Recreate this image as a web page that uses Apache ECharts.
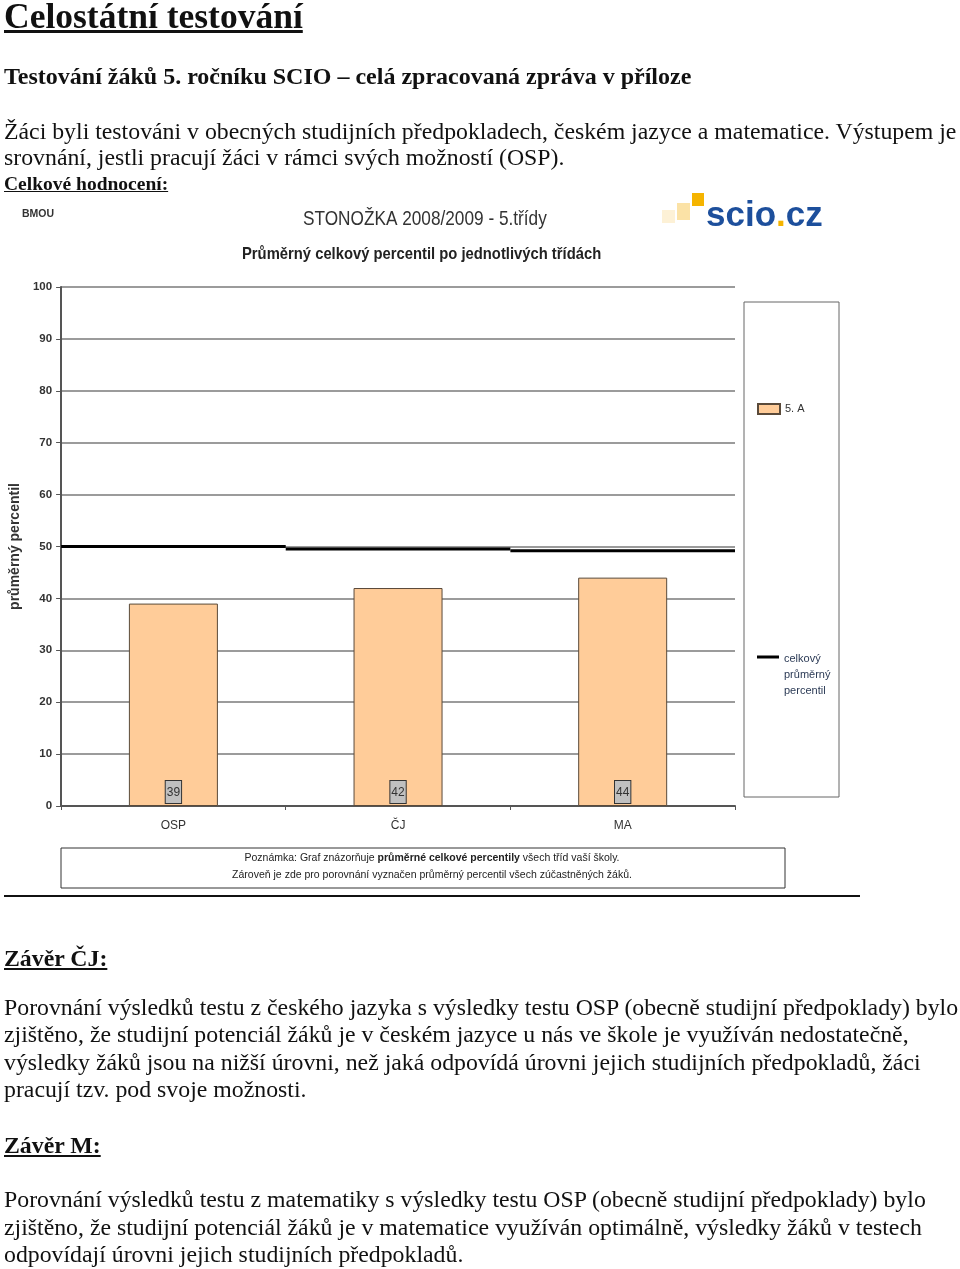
<!DOCTYPE html>
<html><head><meta charset="utf-8">
<script src="https://cdn.jsdelivr.net/npm/echarts@6/dist/echarts.min.js"></script>
<style>
html,body{margin:0;padding:0;background:#fff;}
body{width:960px;height:1269px;position:relative;overflow:hidden;font-family:"Liberation Serif","Times New Roman",serif;color:#111;}
.ln{position:absolute;left:4px;white-space:nowrap;font-size:23.8px;line-height:27px;z-index:2;}
.b{font-weight:bold;}
.u{text-decoration:underline;}
#chart{position:absolute;left:0;top:0;width:960px;height:1269px;z-index:1;}
#sep{position:absolute;left:4px;top:895px;width:856px;height:2px;background:#111;z-index:2;}
</style></head>
<body>
<div id="chart"></div>
<div class="ln b u" style="font-size:35.5px;line-height:40px;top:-4px;text-decoration-thickness:3px;">Celostátní testování</div>
<div class="ln b" style="font-size:24px;top:63px;">Testování žáků 5. ročníku SCIO – celá zpracovaná zpráva v příloze</div>
<div class="ln" style="top:118px;">Žáci byli testováni v obecných studijních předpokladech, českém jazyce a matematice. Výstupem je</div>
<div class="ln" style="top:144px;">srovnání, jestli pracují žáci v rámci svých možností (OSP).</div>
<div class="ln b u" style="font-size:19.5px;line-height:22px;top:173px;">Celkové hodnocení:</div>
<div id="sep"></div>
<div class="ln b u" style="top:945px;">Závěr ČJ:</div>
<div class="ln" style="top:994px;">Porovnání výsledků testu z českého jazyka s výsledky testu OSP (obecně studijní předpoklady) bylo</div>
<div class="ln" style="top:1021px;">zjištěno, že studijní potenciál žáků je v českém jazyce u nás ve škole je využíván nedostatečně,</div>
<div class="ln" style="top:1049px;">výsledky žáků jsou na nižší úrovni, než jaká odpovídá úrovni jejich studijních předpokladů, žáci</div>
<div class="ln" style="top:1076px;">pracují tzv. pod svoje možnosti.</div>
<div class="ln b u" style="top:1132px;">Závěr M:</div>
<div class="ln" style="top:1186px;">Porovnání výsledků testu z matematiky s výsledky testu OSP (obecně studijní předpoklady) bylo</div>
<div class="ln" style="top:1214px;">zjištěno, že studijní potenciál žáků je v matematice využíván optimálně, výsledky žáků v testech</div>
<div class="ln" style="top:1241px;">odpovídají úrovni jejich studijních předpokladů.</div>
<script>
const categories = ['OSP', 'ČJ', 'MA'];
const classValues = [39, 42, 44];
const overallValues = [50, 49.5, 49.2];
const yTickValues = [0, 10, 20, 30, 40, 50, 60, 70, 80, 90, 100];
const className = '5. A';
const overallName = 'celkový průměrný percentil';
const overallLabelLines = ['celkový', 'průměrný', 'percentil'];

const SANS = '"Liberation Sans",Arial,sans-serif';

const chart = echarts.init(document.getElementById('chart'), null, {renderer: 'canvas'});
const option = {
  animation: false,
  title: [
    {text: 'BMOU', left: 22, top: 209, padding: 0, textStyle: {fontFamily: SANS, fontSize: 10.5, fontWeight: 'bold', color: '#333'}}
  ],
  grid: {left: 60, top: 287, width: 675, height: 519, containLabel: false},
  xAxis: {
    type: 'category', data: categories,
    axisLine: {lineStyle: {color: '#555', width: 2}},
    axisTick: {show: true, length: 4, lineStyle: {color: '#555'}},
    axisLabel: {margin: 14, fontFamily: SANS, fontSize: 12, color: '#333'}
  },
  yAxis: {
    type: 'value', min: yTickValues[0], max: yTickValues[yTickValues.length - 1], interval: 10,
    name: 'průměrný percentil', nameLocation: 'middle', nameGap: 35, nameRotate: 90,
    nameTextStyle: {fontFamily: SANS, fontSize: 14, fontWeight: 'bold', color: '#333'},
    axisLine: {show: true, lineStyle: {color: '#555', width: 2}},
    axisTick: {show: true, length: 5, lineStyle: {color: '#555'}},
    axisLabel: {margin: 9, fontFamily: SANS, fontSize: 11.5, fontWeight: 'bold', color: '#333'},
    splitLine: {lineStyle: {color: '#7a7a7a', width: 1.5}}
  },
  legend: [
    {data: [{name: className, icon: 'rect'}], left: 757, top: 403, padding: 0, itemWidth: 22, itemHeight: 10, selectedMode: false,
     textStyle: {fontFamily: SANS, fontSize: 11, color: '#333'}},
    {data: [{name: overallName, icon: 'path://M0,0L22,0L22,3L0,3Z M0,38.99L0.01,38.99L0.01,39L0,39Z', itemStyle: {color: '#000'}}],
     left: 757, top: 651, padding: 0, symbolKeepAspect: false,
     itemWidth: 22, itemHeight: 39, selectedMode: false,
     formatter: function () { return overallLabelLines.join('\n'); },
     textStyle: {fontFamily: SANS, fontSize: 11, lineHeight: 16, color: '#2b3a55'}}
  ],
  graphic: [
    {type: 'text', x: 303, y: 219, scaleX: 0.82, style: {
      text: 'STONOŽKA 2008/2009 - 5.třídy', align: 'left', verticalAlign: 'middle',
      fontFamily: SANS, fontSize: 21, fill: '#333'
    }},
    {type: 'text', x: 242, y: 254, scaleX: 0.87, style: {
      text: 'Průměrný celkový percentil po jednotlivých třídách', align: 'left', verticalAlign: 'middle',
      fontFamily: SANS, fontSize: 17, fontWeight: 'bold', fill: '#222'
    }},
    {type: 'rect', shape: {x: 744, y: 302, width: 95, height: 495}, style: {fill: 'none', stroke: '#666', lineWidth: 1}, z: 0},
    {type: 'rect', shape: {x: 61, y: 848, width: 724, height: 40}, style: {fill: 'none', stroke: '#333', lineWidth: 1}},
    {type: 'text', x: 432, y: 858, style: {
      text: '{n|Poznámka: Graf znázorňuje }{b|průměrné celkové percentily}{n| všech tříd vaší školy.}',
      align: 'center', verticalAlign: 'middle',
      rich: {n: {fontFamily: SANS, fontSize: 10.5, fill: '#222'}, b: {fontFamily: SANS, fontSize: 10.5, fontWeight: 'bold', fill: '#222'}}
    }},
    {type: 'text', x: 432, y: 875, style: {
      text: 'Zároveň je zde pro porovnání vyznačen průměrný percentil všech zúčastněných žáků.',
      align: 'center', verticalAlign: 'middle', fontFamily: SANS, fontSize: 10.5, fill: '#222'
    }},
    {type: 'rect', shape: {x: 662, y: 210, width: 13, height: 13}, style: {fill: '#fdf1d6'}},
    {type: 'rect', shape: {x: 677, y: 203, width: 13, height: 17}, style: {fill: '#fbe2a6'}},
    {type: 'rect', shape: {x: 692, y: 193, width: 12, height: 13}, style: {fill: '#f5b400'}},
    {type: 'text', x: 706, y: 216, style: {
      text: '{a|scio}{d|.}{a|cz}', verticalAlign: 'middle', align: 'left',
      rich: {a: {fontFamily: SANS, fontSize: 35, fontWeight: 'bold', fill: '#1d4f9c'}, d: {fontFamily: SANS, fontSize: 35, fontWeight: 'bold', fill: '#f5b400'}}
    }}
  ],
  series: [
    {
      name: className, type: 'bar', data: classValues, barWidth: 89, z: 2,
      itemStyle: {color: '#FFCC99', borderColor: '#5a4a3a', borderWidth: 1},
      label: {show: true, position: 'insideBottom', distance: 3, backgroundColor: '#c0c0c0', borderColor: '#333', borderWidth: 1,
              padding: [6, 1, 4, 1], fontFamily: SANS, fontSize: 12, color: '#333'}
    },
    {
      name: overallName, type: 'custom', z: 3,
      data: overallValues.map(function (v, i) { return [i, v]; }),
      encode: {x: 0, y: 1},
      itemStyle: {color: '#000'},
      renderItem: function (params, api) {
        const c = api.coord([api.value(0), api.value(1)]);
        const w = api.size([1, 0])[0];
        return {type: 'line', shape: {x1: c[0] - w / 2, y1: c[1], x2: c[0] + w / 2, y2: c[1]}, style: {stroke: '#000', lineWidth: 3}};
      }
    }
  ]
};
chart.setOption(option);
</script>
</body></html>
